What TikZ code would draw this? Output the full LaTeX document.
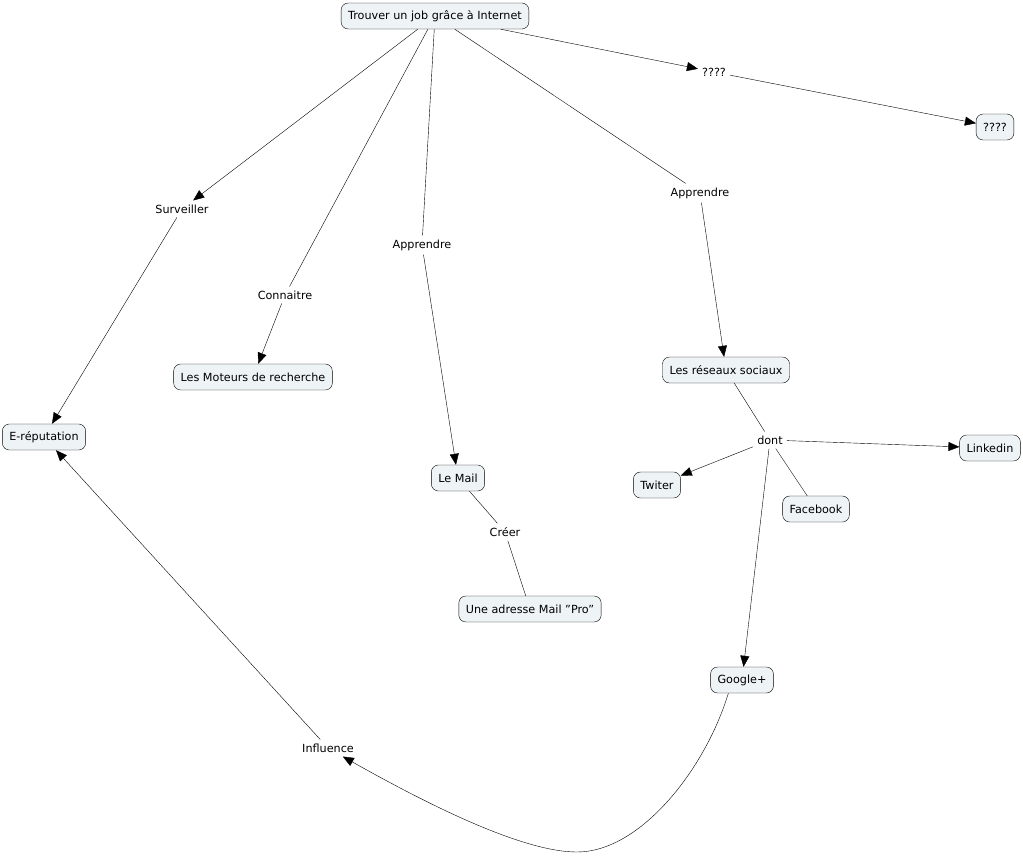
\documentclass[tikz,border=0pt]{standalone}
\usepackage{fontspec}
\setmainfont{DejaVu Sans}
\usetikzlibrary{arrows.meta}
\definecolor{cmapfill}{HTML}{EEF3F5}

\begin{document}
\begin{tikzpicture}[x=1pt, y=-1pt, font=\fontsize{11.2}{13}\selectfont,
		concept/.style={draw=black, fill=cmapfill, rounded corners=7pt, inner xsep=7pt, inner ysep=4pt, minimum height=26pt, thin},
		phrase/.style={inner sep=4pt},
		link/.style={thin},
		arrow/.style={thin, -{Triangle[length=11pt, width=9pt]}}]
			\useasboundingbox (0,0) rectangle (1023,855);
			\node[concept] (trouver) at (435,16) {Trouver un job grâce à Internet};
			\node[concept] (questionB) at (995,127) {????};
			\node[concept] (moteurs) at (253,377) {Les Moteurs de recherche};
			\node[concept] (ereput) at (44,437) {E-réputation};
			\node[concept] (mail) at (458,478) {Le Mail};
			\node[concept] (adresse) at (530,609) {Une adresse Mail \symbol{34}Pro\symbol{34}};
			\node[concept] (reseaux) at (726,370) {Les réseaux sociaux};
			\node[concept] (linkedin) at (990,448) {Linkedin};
			\node[concept] (twiter) at (657,485) {Twiter};
			\node[concept] (facebook) at (816,509) {Facebook};
			\node[concept] (google) at (742,680) {Google+};
			\node[phrase] (questionA) at (714,72) {????};
			\node[phrase] (surveiller) at (182,209) {Surveiller};
			\node[phrase] (connaitre) at (285,295) {Connaitre};
			\node[phrase] (apprendreA) at (422,245) {Apprendre};
			\node[phrase] (apprendreB) at (700,193) {Apprendre};
			\node[phrase] (creer) at (505,532) {Créer};
			\node[phrase] (dont) at (770,440) {dont};
			\node[phrase] (influence) at (328,748) {Influence};
			\coordinate (bottom) at (577,852);
			\draw[arrow] (trouver) -- (surveiller);
			\draw[arrow] (surveiller) -- (ereput);
			\draw[link] (trouver) -- (connaitre);
			\draw[arrow] (connaitre) -- (moteurs);
			\draw[link] (trouver) -- (apprendreA);
			\draw[arrow] (apprendreA) -- (mail);
			\draw[link] (trouver) -- (apprendreB);
			\draw[arrow] (apprendreB) -- (reseaux);
			\draw[arrow] (trouver) -- (questionA);
			\draw[arrow] (questionA) -- (questionB);
			\draw[link] (mail) -- (creer);
			\draw[link] (creer) -- (adresse);
			\draw[link] (reseaux) -- (dont);
			\draw[arrow] (dont) -- (twiter);
			\draw[arrow] (dont) -- (linkedin);
			\draw[link] (dont) -- (facebook);
			\draw[arrow] (dont) -- (google);
			\draw[arrow] (google.south west) ++(18,0) .. controls (705,770) and (640,852) .. (bottom)
				.. controls (520,852) and (420,800) .. (influence.330);
			\draw[arrow] (influence) -- (ereput);
		\end{tikzpicture}
\end{document}
